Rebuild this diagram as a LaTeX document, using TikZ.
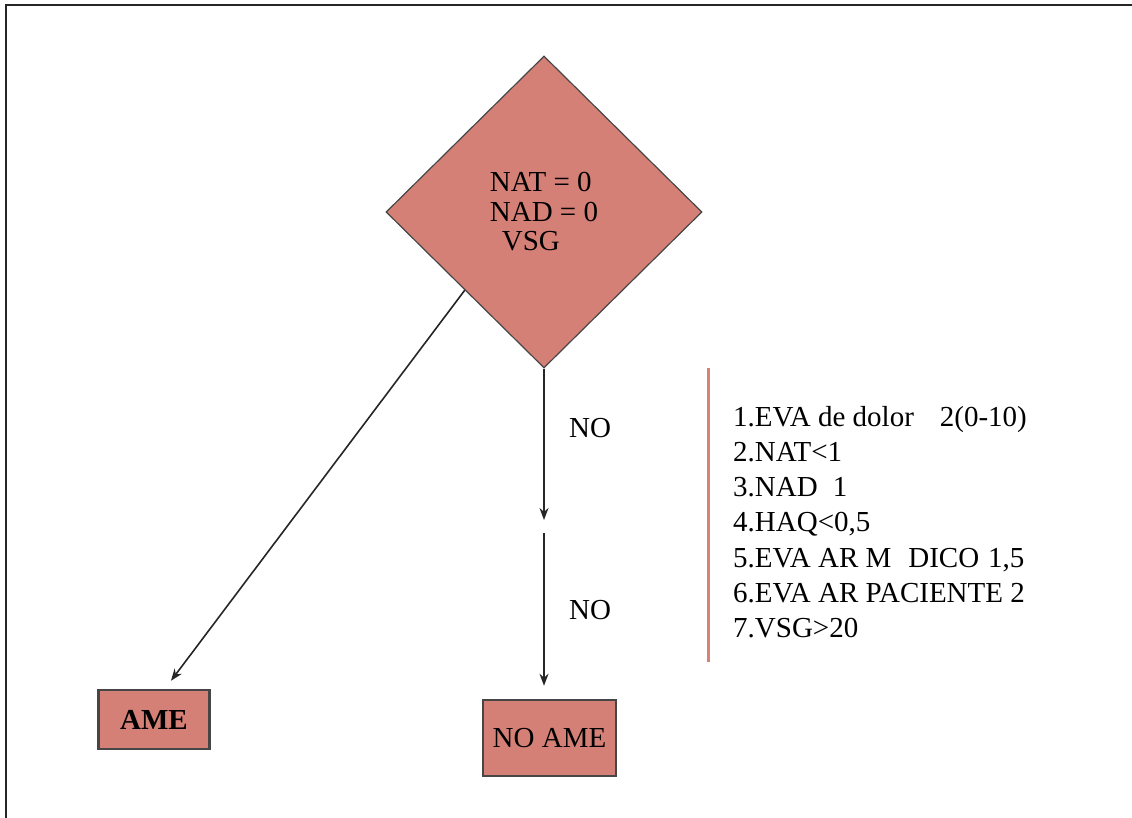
\documentclass[tikz,border=0pt]{standalone}
\usepackage{fontspec}
\setmainfont{Liberation Serif}
\usetikzlibrary{shapes.geometric,arrows.meta}
\definecolor{salmon}{RGB}{213,128,118}
\definecolor{edgegray}{RGB}{70,70,70}
\definecolor{listred}{RGB}{218,128,118}
\tikzset{
  decision/.style={diamond, draw=edgegray, line width=1.2pt, fill=salmon,
    minimum width=316pt, minimum height=312pt, inner sep=0pt,
    font=\fontsize{29}{29.5}\selectfont, align=left},
  outcome/.style={rectangle, draw=edgegray, line width=2.5pt, fill=salmon,
    inner sep=0pt, font=\fontsize{29}{34}\selectfont},
  flow/.style={-{Stealth[length=12pt,width=9pt]}, line width=1.6pt, draw=black!85},
  lbl/.style={font=\fontsize{29}{34}\selectfont, inner sep=0pt},
  listtext/.style={font=\fontsize{29}{35.2}\selectfont, align=left, inner sep=0pt, anchor=north west},
}
\begin{document}
\begin{tikzpicture}[x=1pt,y=-1pt]
\useasboundingbox (0,0) rectangle (1132,818);
\draw[line width=1.5pt, black!85] (6,818) -- (6,5) -- (1132,5);

\node[decision] (d) at (544,212) {NAT = 0\\NAD = 0\\\hspace*{12pt}VSG};

\node[outcome, minimum width=111pt, minimum height=59pt,
      font=\bfseries\fontsize{29}{34}\selectfont] (ame) at (154,719.5) {AME};
\node[outcome, minimum width=133pt, minimum height=76pt] (noame) at (549.5,738) {NO AME};

\coordinate (t1) at ([xshift=17pt,yshift=8pt]ame.north);
\draw[flow] (d.south west) -- (t1);

\coordinate (m1) at (544,520);
\coordinate (m2) at (544,533);
\draw[flow] (d.south) -- (m1);
\draw[flow] (m2) -- ([xshift=-5.5pt,yshift=13pt]noame.north);

\node[lbl] (no1) at (590,428) {NO};
\node[lbl] (no2) at (590,610) {NO};

\draw[listred, line width=3pt] (708,368) -- (708,662);
\node[listtext] (crit) at (733,406) {1.EVA de dolor\hspace{26pt}2(0-10)\\
2.NAT<1\\
3.NAD\hspace{15pt}1\\
4.HAQ<0,5\\
5.EVA AR M\hspace{17pt}DICO\hspace{9pt}1,5\\
6.EVA AR PACIENTE 2\\
7.VSG>20};
\end{tikzpicture}
\end{document}
